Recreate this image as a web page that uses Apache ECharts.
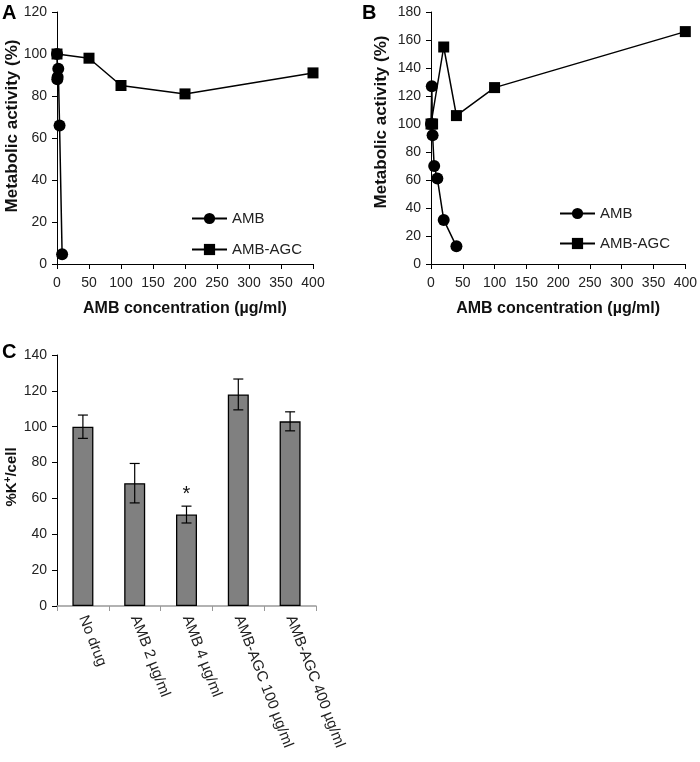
<!DOCTYPE html>
<html><head><meta charset="utf-8">
<script src="https://cdn.jsdelivr.net/npm/echarts@6/dist/echarts.min.js"></script>
<style>html,body{margin:0;padding:0;background:#fff}#c{width:700px;height:762px}</style>
</head><body><div id="c"></div>
<script>
// Panel A
const ambA = [[0,100],[0.5,88],[1,89],[2,93],[4,66],[8,4.6]];
const agcA = [[0,100],[50,98],[100,85],[200,81],[400,91]];
// Panel B
const ambB = [[0,100],[1.25,127],[2.5,92],[5,70],[10,61],[20,31.5],[40,12.6]];
const agcB = [[0,100],[2.5,100],[20,155],[40,106],[100,126],[400,166]];
// Panel C
const catC = ['No drug','AMB 2 µg/ml','AMB 4 µg/ml','AMB-AGC 100 µg/ml','AMB-AGC 400 µg/ml'];
const valC = [100, 68.5, 51, 118, 103];
const errC = [6.5, 11, 4.7, 8.6, 5.3];
const sigC = ['', '', '*', '', ''];

const F = 'Liberation Sans, Arial, sans-serif';
const TXT = '#222';
const axisLine = {show:true, lineStyle:{color:'#000', width:1}};
const ticks = {show:true, length:5, lineStyle:{color:'#000'}};
const lbl = {color:TXT, fontFamily:F, fontSize:14};
const nameStyle = {color:'#111', fontFamily:F, fontSize:16, fontWeight:'bold'};

function xVal(grid, max){
  return {type:'value', gridIndex:grid, min:0, max:max, interval:50,
    axisLine:axisLine, axisTick:ticks, splitLine:{show:false},
    axisLabel:Object.assign({margin:12}, lbl),
    name:'AMB concentration (µg/ml)', nameLocation:'middle', nameGap:37, nameTextStyle:nameStyle};
}
function yVal(grid, max){
  return {type:'value', gridIndex:grid, min:0, max:max, interval:20,
    axisLine:axisLine, axisTick:ticks, splitLine:{show:false},
    axisLabel:Object.assign({margin:10}, lbl)};
}
function lineSeries(name, data, xi, yi, sym){
  return {type:'line', name:name, data:data, xAxisIndex:xi, yAxisIndex:yi,
    symbol:sym, symbolSize: sym==='rect'?11:12, showSymbol:true,
    lineStyle:{color:'#000', width:1.5}, itemStyle:{color:'#000'},
    emphasis:{disabled:true}, animation:false, z:sym==='rect'?3:4};
}
const legendText = {color:TXT, fontFamily:F, fontSize:15};
function yTitle(text, x, y, size, rich){
  return {type:'text', x:x, y:y, rotation:Math.PI/2,
    style:{text:text, font:'bold '+size+'px '+F, fill:'#111', align:'center', verticalAlign:'middle', rich:rich}};
}

const chart = echarts.init(document.getElementById('c'), null, {renderer:'canvas'});
chart.setOption({
  animation:false,
  backgroundColor:'#fff',
  textStyle:{fontFamily:F},
  grid:[
    {left:57, top:12, width:256, height:252},
    {left:431, top:12, width:257, height:252},
    {left:57, top:355, width:259, height:251}
  ],
  xAxis:[
    xVal(0,400), xVal(1,400),
    {type:'category', gridIndex:2, data:catC,
      axisLine:{show:true, lineStyle:{color:'#999', width:1.5}},
      axisTick:{show:true, length:5, lineStyle:{color:'#999'}},
      axisLabel:Object.assign({rotate:-69, margin:10, interval:0}, lbl, {fontSize:15})}
  ],
  yAxis:[ yVal(0,120), yVal(1,180), yVal(2,140) ],
  legend:[
    {orient:'vertical', left:191, top:211, padding:0, itemWidth:35, itemHeight:14, itemGap:16,
      textStyle:legendText, data:['AMB','AMB-AGC']},
    {orient:'vertical', left:559, top:206, padding:0, itemWidth:35, itemHeight:14, itemGap:15,
      textStyle:legendText, data:['AMB ','AMB-AGC ']}
  ],
  series:[
    lineSeries('AMB', ambA, 0, 0, 'circle'),
    lineSeries('AMB-AGC', agcA, 0, 0, 'rect'),
    lineSeries('AMB ', ambB, 1, 1, 'circle'),
    lineSeries('AMB-AGC ', agcB, 1, 1, 'rect'),
    {type:'bar', data:valC, xAxisIndex:2, yAxisIndex:2, barWidth:21,
      itemStyle:{color:'#808080', borderColor:'#000', borderWidth:1.3},
      emphasis:{disabled:true}},
    {type:'custom', xAxisIndex:2, yAxisIndex:2, z:5,
      data: valC.map((v,i)=>[i, v, errC[i]]),
      renderItem:function(params, api){
        const i = api.value(0), v = api.value(1), e = api.value(2);
        const hi = api.coord([i, v+e]), lo = api.coord([i, v-e]);
        const w = 5;
        const children = [
          {type:'line', shape:{x1:hi[0], y1:hi[1], x2:lo[0], y2:lo[1]}, style:{stroke:'#000', lineWidth:1.2}},
          {type:'line', shape:{x1:hi[0]-w, y1:hi[1], x2:hi[0]+w, y2:hi[1]}, style:{stroke:'#000', lineWidth:1.2}},
          {type:'line', shape:{x1:lo[0]-w, y1:lo[1], x2:lo[0]+w, y2:lo[1]}, style:{stroke:'#000', lineWidth:1.2}}
        ];
        const s = sigC[params.dataIndex];
        if (s) children.push({type:'text', style:{text:s, x:hi[0], y:hi[1]-2, align:'center', verticalAlign:'bottom', font:'20px '+F, fill:'#111'}});
        return {type:'group', children:children};
      }}
  ],
  graphic:[
    {type:'text', left:2, top:3, style:{text:'A', font:'bold 20px '+F, fill:'#000'}},
    {type:'text', left:362, top:3, style:{text:'B', font:'bold 20px '+F, fill:'#000'}},
    {type:'text', left:2, top:342, style:{text:'C', font:'bold 20px '+F, fill:'#000'}},
    yTitle('Metabolic activity (%)', 12, 126, 17),
    yTitle('Metabolic activity (%)', 381, 122, 17),
    yTitle('%K{sup|+}/cell', 12, 477, 15, {sup:{font:'bold 10px '+F, fill:'#111', padding:[0,0,8,0]}})
  ]
});
</script></body></html>
